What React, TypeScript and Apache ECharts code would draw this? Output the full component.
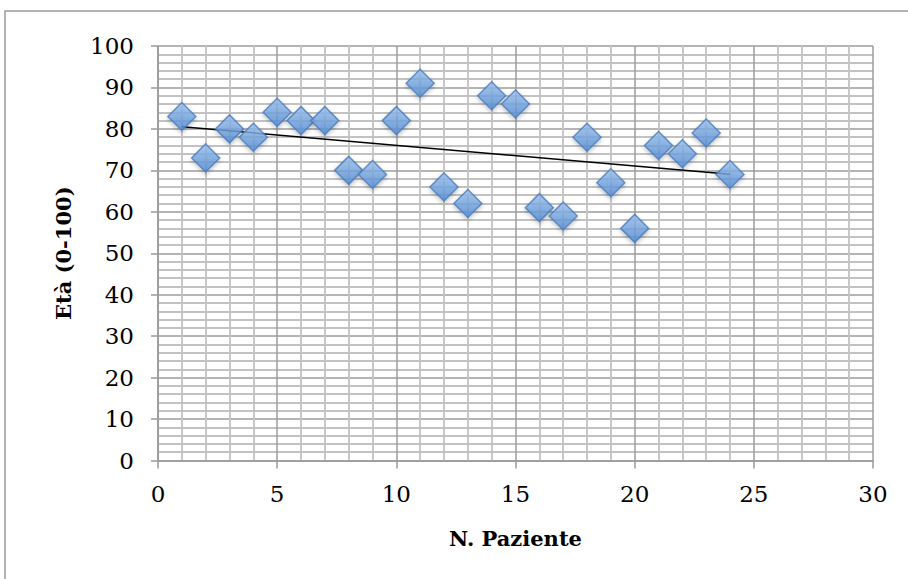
import React, { useEffect, useRef } from "react";
import * as echarts from "echarts";

const patients = [1, 2, 3, 4, 5, 6, 7, 8, 9, 10, 11, 12, 13, 14, 15, 16, 17, 18, 19, 20, 21, 22, 23, 24];
const ages = [83, 73, 80, 78, 84, 82, 82, 70, 69, 82, 91, 66, 62, 88, 86, 61, 59, 78, 67, 56, 76, 74, 79, 69];
const xTitle = "N. Paziente";
const yTitle = "Età (0-100)";

function trend(xs: number[], ys: number[]) {
  const n = xs.length;
  const mx = xs.reduce((a, b) => a + b, 0) / n;
  const my = ys.reduce((a, b) => a + b, 0) / n;
  let sxy = 0, sxx = 0;
  for (let i = 0; i < n; i++) {
    sxy += (xs[i] - mx) * (ys[i] - my);
    sxx += (xs[i] - mx) * (xs[i] - mx);
  }
  const b = sxy / sxx;
  const a = my - b * mx;
  const x0 = xs[0], x1 = xs[n - 1];
  return [[x0, a + b * x0], [x1, a + b * x1]];
}

export default function App() {
  const ref = useRef<HTMLDivElement>(null);
  useEffect(() => {
    const chart = echarts.init(ref.current!, null, { renderer: "svg" });
    const font = "'DejaVu Serif', 'Liberation Serif', serif";
    chart.setOption({
      animation: false,
      backgroundColor: "#ffffff",
      textStyle: { fontFamily: font },
      graphic: [
        {
          type: "rect",
          shape: { x: 5, y: 11, width: 1000, height: 1000 },
          style: { fill: "none", stroke: "#9a9a9a", lineWidth: 1.5 },
          silent: true,
        },
      ],
      grid: { left: 158, right: 35, top: 46, bottom: 118.5 },
      xAxis: {
        type: "value",
        min: 0,
        max: 30,
        interval: 5,
        name: xTitle,
        nameLocation: "middle",
        nameGap: 67,
        nameTextStyle: { fontFamily: font, fontWeight: "bold", fontSize: 21, color: "#000" },
        axisLine: { show: true, onZero: false, lineStyle: { color: "#999999", width: 1.5 } },
        axisTick: { show: true, length: 8, lineStyle: { color: "#999999", width: 1.5 } },
        axisLabel: { color: "#000", fontSize: 23, fontFamily: font, margin: 22 },
        splitLine: { show: true, lineStyle: { color: "#9c9c9c", width: 1.5 } },
        minorTick: { show: false, splitNumber: 5 },
        minorSplitLine: { show: true, lineStyle: { color: "#c2c2c2", width: 1.8 } },
      },
      yAxis: {
        type: "value",
        min: 0,
        max: 100,
        interval: 10,
        name: yTitle,
        nameLocation: "middle",
        nameGap: 84,
        nameRotate: 90,
        nameTextStyle: { fontFamily: font, fontWeight: "bold", fontSize: 21, color: "#000" },
        axisLine: { show: true, onZero: false, lineStyle: { color: "#999999", width: 1.5 } },
        axisTick: { show: true, length: 7, lineStyle: { color: "#999999", width: 1.5 } },
        axisLabel: { color: "#000", fontSize: 23, fontFamily: font, margin: 24 },
        splitLine: { show: true, lineStyle: { color: "#9c9c9c", width: 1.5 } },
        minorTick: { show: false, splitNumber: 5 },
        minorSplitLine: { show: true, lineStyle: { color: "#c2c2c2", width: 1.8 } },
      },
      series: [
        {
          type: "line",
          data: trend(patients, ages),
          symbol: "none",
          lineStyle: { color: "#000", width: 1.5 },
          z: 3,
        },
        {
          type: "scatter",
          data: patients.map((p, i) => [p, ages[i]]),
          symbol: "diamond",
          symbolSize: 28,
          z: 4,
          itemStyle: {
            color: new echarts.graphic.LinearGradient(0, 0, 0, 1, [
              { offset: 0, color: "#9cc2ee" },
              { offset: 1, color: "#4f8ad4" },
            ]),
            borderColor: "#4a7cba",
            borderWidth: 1.5,
            shadowColor: "rgba(0,0,0,0.3)",
            shadowBlur: 4,
            shadowOffsetY: 2,
          },
        },
      ],
    });
    return () => chart.dispose();
  }, []);
  return <div ref={ref} style={{ width: 908, height: 579, position: "absolute", left: 0, top: 0 }} />;
}
